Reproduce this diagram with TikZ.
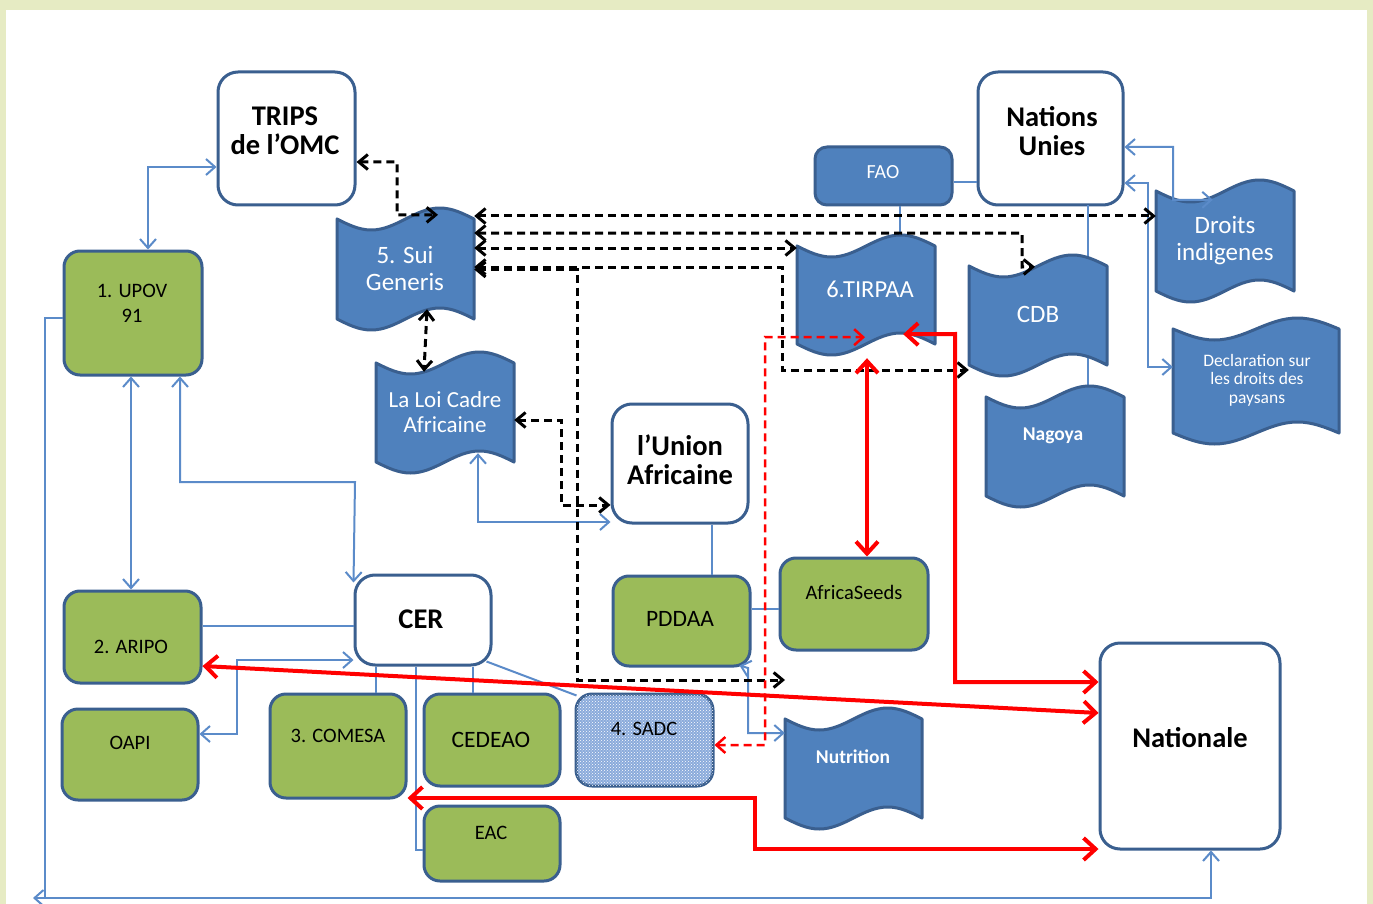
\documentclass[tikz,border=0pt]{standalone}
\usepackage{fontspec}
\setmainfont{Carlito}
\usetikzlibrary{arrows.meta,calc,patterns}
\pgfdeclarelayer{bg}
\pgfsetlayers{bg,main}
\definecolor{framec}{HTML}{E6EBC3}
\definecolor{bdr}{HTML}{3A5F8F}
\definecolor{wfill}{HTML}{4F81BD}
\definecolor{gfill}{HTML}{9BBB59}
\definecolor{cblue}{HTML}{5B8BC9}
\definecolor{sadcb}{HTML}{8AAADB}
\definecolor{cred}{HTML}{FF0000}
\newcommand\wavesh[5]{%
  \pgfmathsetmacro\wq{(#4-#2)/4}%
  \pgfmathsetmacro\wyt{#3+11}%
  \pgfmathsetmacro\wyb{#5-11}%
  \filldraw[wave] (#2,\wyt) sin ++(\wq,11) cos ++(\wq,-11) sin ++(\wq,-11) cos ++(\wq,11) -- (#4,\wyb) sin ++(-\wq,-11) cos ++(-\wq,11) sin ++(-\wq,11) cos ++(-\wq,-11) -- cycle;
  \node[hold, minimum width={#4-#2}, minimum height={#5-#3}] (#1) at ({(#2+#4)/2},{(#3+#5)/2}) {};
}
\begin{document}
\begin{tikzpicture}[x=1pt,y=-1pt,
  wbox/.style={draw=bdr, line width=3pt, fill=white, rounded corners=20pt, inner sep=0},
  gbox/.style={draw=bdr, line width=3pt, fill=gfill, rounded corners=16pt, inner sep=0},
  fbox/.style={draw=bdr, line width=3pt, fill=wfill, rounded corners=12pt, inner sep=0},
  wave/.style={draw=bdr, line width=3pt, fill=wfill, line join=round},
  hold/.style={inner sep=0, draw=none},
  wt/.style={text=white, align=center, inner sep=0},
  kt/.style={text=black, align=center, inner sep=0},
  big/.style={font=\bfseries\fontsize{28.5}{29}\selectfont},
  gt/.style={kt, font=\fontsize{20.5}{25}\selectfont},
  bline/.style={draw=cblue, line width=2pt},
  kline/.style={draw=black, line width=3pt, dash pattern=on 8pt off 5pt},
  rline/.style={draw=cred, line width=4pt},
  rdash/.style={draw=cred, line width=2.5pt, dash pattern=on 8pt off 5pt},
  Bb/.style={arrows={Straight Barb[length=9pt,width=16pt]-Straight Barb[length=9pt,width=16pt]}},
  Kb/.style={arrows={Straight Barb[length=9pt,width=15pt]-Straight Barb[length=9pt,width=15pt]}},
  Rb/.style={arrows={Straight Barb[length=12pt,width=22pt]-Straight Barb[length=12pt,width=22pt]}}
]
\useasboundingbox (0,0) rectangle (1373,904);
\begin{pgfonlayer}{bg}
\fill[framec] (0,0) rectangle (1373,904);
\fill[white] (6,10) rectangle (1367,904);
\end{pgfonlayer}

% white boxes
\node[wbox, minimum width=137, minimum height=133] (trips) at (286.5,138.5) {};
\node[kt,big] (tripst) at (285,131) {TRIPS\\de l’OMC};
\node[wbox, minimum width=145, minimum height=133] (nu) at (1050.5,138.5) {};
\node[kt,big] (nut0) at (1052,131) {Nations\\Unies};
\node[wbox, minimum width=136, minimum height=119] (ua) at (680,463.5) {};
\node[kt,big] (uat) at (680,460) {l’Union\\Africaine};
\node[wbox, minimum width=136, minimum height=90] (cer) at (423,620) {};
\node[kt,big] (cert) at (421,619) {CER};
\node[wbox, minimum width=180, minimum height=206] (nat) at (1190,746) {};
\node[kt,big] (natt) at (1190,738) {Nationale};

% FAO
\node[fbox, minimum width=137, minimum height=58] (fao) at (883.5,176) {};
\node[wt, font=\fontsize{20}{24}\selectfont] (faot) at (883,172) {FAO};

% green boxes
\node[gbox, minimum width=138, minimum height=124] (upov) at (133,313) {};
\node[gt] (upovt) at (132,303) {1. UPOV\\91};
\node[gbox, minimum width=137, minimum height=92] (aripo) at (132.5,637) {};
\node[gt] (aripot) at (131,647) {2. ARIPO};
\node[gbox, minimum width=136, minimum height=91] (oapi) at (130,754.5) {};
\node[gt] (oapit) at (130,743) {OAPI};
\node[gbox, minimum width=136, minimum height=104] (comesa) at (338,746) {};
\node[gt] (comesat) at (338,736) {3. COMESA};
\node[gbox, minimum width=136, minimum height=92] (cedeao) at (492,740) {};
\node[gt, font=\fontsize{23.5}{25}\selectfont] (cedeaot) at (491,740) {CEDEAO};
\node[gbox, minimum width=137, minimum height=90] (pddaa) at (681.5,621) {};
\node[gt, font=\fontsize{23.5}{25}\selectfont] (pddaat) at (680,619) {PDDAA};
\node[gbox, minimum width=148, minimum height=92] (aseeds) at (854,604) {};
\node[gt] (aseedst) at (854,592) {AfricaSeeds};
\node[gbox, minimum width=136, minimum height=75] (eac) at (492,843.5) {};
\node[gt] (eact) at (491,833) {EAC};
\node[gbox, fill=sadcb, postaction={pattern=crosshatch dots, pattern color=white}, minimum width=137, minimum height=92] (sadc) at (644.5,740) {};
\node[gt] (sadct) at (644,729) {4. SADC};

% background line NU - CDB - Nagoya
\draw[bline] (1088,205) -- (1088,386);

% waves
\wavesh{sg}{337}{208}{474}{330}
\node[wt, font=\fontsize{25}{27}\selectfont] (sgt) at (405,268) {5. Sui\\Generis};
\wavesh{loi}{376}{352}{514}{473}
\node[wt, font=\fontsize{23}{25}\selectfont] (loit) at (445,412) {La Loi Cadre\\Africaine};
\wavesh{tir}{797}{235}{935}{355}
\node[wt, font=\fontsize{24.5}{27}\selectfont] (tirt) at (870,289) {6.TIRPAA};
\wavesh{cdb}{969}{255}{1107}{376}
\node[wt, font=\fontsize{25}{27}\selectfont] (cdbt) at (1038,314) {CDB};
\wavesh{di}{1156}{180}{1294}{302}
\node[wt, font=\fontsize{25}{27}\selectfont] (dit) at (1225,241) {Droits\\indigenes};
\wavesh{decl}{1173}{318}{1339}{444}
\node[wt, font=\fontsize{17.5}{18.5}\selectfont] (declt) at (1257,380) {Declaration sur\\les droits des\\paysans};
\wavesh{nag}{986}{386}{1124}{507}
\node[wt, font=\bfseries\fontsize{19.5}{24}\selectfont] (nagt) at (1053,436) {Nagoya};
\wavesh{nut}{785}{708}{922}{829}
\node[wt, font=\bfseries\fontsize{19.5}{24}\selectfont] (nutt) at (853,757) {Nutrition};

% blue connectors
\draw[bline,Bb] (upov.north -| 148,0) -- (148,167) -- (trips.west |- 0,167);
\draw[bline,Bb] (upov.south -| 131,0) -- (aripo.north -| 131,0);
\draw[bline,Bb] (upov.south -| 180,0) -- (180,482) -- (355,482) -- ($(cer.north west)+(0,9)$);
\draw[bline] (upov.west |- 0,318) -- (45,318) -- (45,898);
\coordinate (lend) at (33,898);
\draw[bline,Bb] (lend) -- (1211,898) -- (nat.south -| 1211,0);
\draw[bline] (aripo.east |- 0,626) -- (cer.west |- 0,626);
\draw[bline,Bb] (cer.west |- 0,660) -- (237,660) -- (237,734) -- (oapi.east |- 0,734);
\draw[bline] (cer.south -| 376,0) -- (comesa.north -| 376,0);
\draw[bline] (cer.south -| 473,0) -- (cedeao.north -| 473,0);
\draw[bline] (cer.south -| 416,0) -- (416,850) -- (eac.west |- 0,850);
\draw[bline] ($(cer.south east)+(-6,-5)$) -- ($(sadc.north west)+(2,3)$);
\draw[bline,Bb] ($(loi.south -| 478,0)+(0,-20)$) -- (478,522) -- (ua.west |- 0,522);
\draw[bline] (ua.south -| 712,0) -- (pddaa.north -| 712,0);
\draw[bline] (pddaa.east |- 0,609) -- (aseeds.west |- 0,609);
\draw[bline,Bb] ($(pddaa.south east)+(-12,-2)$) -- (748,668) -- (748,733) -- (nut.west |- 0,733);
\draw[bline] (fao.south -| 900,0) -- (tir.north -| 900,0);
\draw[bline] (fao.east |- 0,182) -- (nu.west |- 0,182);
\draw[bline,Bb] ($(di.north west)+(57,20)$) -- (1173,200) -- (1173,147) -- (nu.east |- 0,147);
\draw[bline,Bb] (nu.east |- 0,183) -- (1148,183) -- (1148,367) -- (decl.west |- 0,367);

% black dashed connectors
\draw[kline,Kb] (trips.east |- 0,162) -- (397,162) -- (397,215) -- ($(sg.north -| 438,0)+(0,7)$);
\draw[kline,Kb] (sg.east |- 0,216) -- (di.west |- 0,216);
\draw[kline,Kb] (sg.east |- 0,233) -- (1022,233) -- (1022,267) -- ($(cdb.north -| 1035,0)+(0,12)$);
\draw[kline,Kb] (sg.east |- 0,248) -- (tir.west |- 0,248);
\draw[kline,Kb] (sg.east |- 0,267) -- (782,267) -- (782,370) -- (cdb.west |- 0,370);
\coordinate (kend) at (785,680);
\draw[kline,Kb] (sg.east |- 0,269.5) -- (577,269.5) -- (577,680) -- (kend);
\draw[kline,Kb] ($(sg.south -| 427,0)+(0,-21)$) -- ($(loi.north -| 424,0)+(0,20)$);
\draw[kline,Kb] (loi.east |- 0,420) -- (561,420) -- (561,505) -- (ua.west |- 0,505);

% red connectors
\draw[rline,Rb] ($(tir.south -| 867,0)+(0,3)$) -- (aseeds.north -| 867,0);
\draw[rline,Rb] ($(tir.south east)+(-32,-21)$) -- (955,334) -- (955,682) -- (nat.west |- 0,682);
\draw[rline,Rb] (aripo.east |- 0,666) -- (nat.west |- 0,713);
\draw[rline,Rb] (comesa.east |- 0,798) -- (755,798) -- (755,849) -- (nat.west |- 0,849);
\draw[rdash,Bb] (sadc.east |- 0,745) -- (765,745) -- (765,337) -- ($(tir.south -| 865,0)+(0,-18)$);
\end{tikzpicture}
\end{document}
